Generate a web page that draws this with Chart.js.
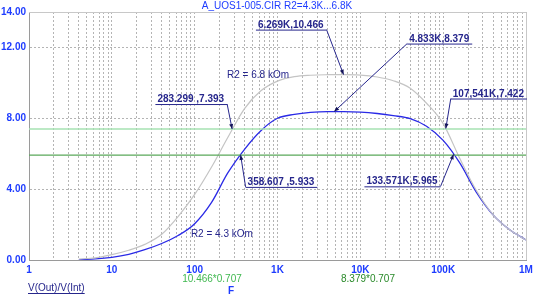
<!DOCTYPE html>
<html>
<head>
<meta charset="utf-8">
<script src="https://cdn.jsdelivr.net/npm/chart.js@4.4.1/dist/chart.umd.min.js"></script>
<style>
  html, body { margin: 0; padding: 0; background: #fff; }
  #wrap { width: 552px; height: 301px; position: relative; }
</style>
</head>
<body>
<div id="wrap"><canvas id="c"></canvas></div>
<script>
/* ---- data (5 samples per decade) ---- */
const freqs = [4, 6.3, 10, 16, 25, 40, 63, 100, 160, 250, 400, 630,
  1000, 1600, 2500, 4000, 6300, 10000, 16000, 25000, 40000, 63000,
  100000, 160000, 250000, 400000, 630000, 1000000];
const gainR68 = [0.05, 0.12, 0.3, 0.55, 0.88, 1.45, 2.45, 3.7, 5.25, 6.9, 8.55, 9.55,
  10.1, 10.35, 10.43, 10.46, 10.466, 10.44, 10.33, 10.12, 9.7, 8.85,
  7.7, 5.7, 3.95, 2.55, 1.72, 1.13];
const gainR43 = [0.02, 0.06, 0.15, 0.32, 0.58, 0.93, 1.38, 2.05, 3.25, 4.9, 6.25, 7.3,
  8.0, 8.22, 8.33, 8.375, 8.375, 8.35, 8.27, 8.15, 7.98, 7.55,
  6.75, 5.45, 3.85, 2.55, 1.72, 1.13];
const refLevels = [7.400, 5.924];          // 10.466*0.707, 8.379*0.707
const refTexts = ['10.466*0.707', '8.379*0.707'];
const yTicks = [0, 4, 8, 12, 14];
const xDecades = [1, 10, 100, 1000, 10000, 100000, 1000000];
const xLabels = ['1', '10', '100', '1K', '10K', '100K', '1M'];
const markerF = [283.299, 358.607, 133571, 107541, 4833, 6269];
const markerV = [7.393, 5.933, 5.965, 7.422, 8.379, 10.466];
const markerText = ['283.299 ,7.393', '358.607 ,5.933', '133.571K,5.965', '107,541K,7.422', '4.833K,8.379', '6.269K,10.466'];

/* ---- styling / layout ---- */
const FONT = "Arial, 'Liberation Sans', sans-serif";
const BLUE = '#1e3cff', NAVY = '#26268c', GRID = '#b4b4b4';
// leader attach offsets (px from marker point) and which way the label runs
const markerLayout = [
  { dx: -5, dy: -25, side: 'left' },
  { dx: 5, dy: 32, side: 'right' },
  { dx: -13, dy: 32, side: 'left' },
  { dx: 5, dy: -30, side: 'right' },
  { dx: 73, dy: -68, side: 'right' },
  { dx: -17, dy: -45, side: 'left' }
];

const pts = (ys) => freqs.map((f, i) => ({ x: f, y: ys[i] }));
const flat = (v) => [{ x: 1, y: v }, { x: 1000000, y: v }];

const extras = {
  id: 'extras',
  afterDatasetsDraw(chart) {
    const { ctx, chartArea: a, scales: { x, y } } = chart;
    ctx.save();
    // frame top/right
    ctx.strokeStyle = '#c8c8c8'; ctx.lineWidth = 1;
    ctx.beginPath();
    ctx.moveTo(a.left, a.top + 0.5); ctx.lineTo(a.right + 0.5, a.top + 0.5); ctx.lineTo(a.right + 0.5, a.bottom);
    ctx.stroke();

    // title
    ctx.font = '10px ' + FONT; ctx.fillStyle = BLUE; ctx.textAlign = 'center'; ctx.textBaseline = 'middle';
    ctx.fillText('A_UOS1-005.CIR R2=4.3K...6.8K', 277, 6);

    // curve names
    ctx.fillStyle = NAVY; ctx.textAlign = 'left'; ctx.textBaseline = 'alphabetic';
    ctx.fillText('R2 = 6.8 kOm', x.getPixelForValue(246), y.getPixelForValue(10.3));
    ctx.fillText('R2 = 4.3 kOm', x.getPixelForValue(90), y.getPixelForValue(1.3));

    // marker annotations
    ctx.font = 'bold 10px ' + FONT;
    markerF.forEach((f, i) => {
      const px = x.getPixelForValue(f), py = y.getPixelForValue(markerV[i]);
      const L = markerLayout[i];
      const ax = px + L.dx, ay = py + L.dy;
      const w = ctx.measureText(markerText[i]).width + 5;
      const x0 = L.side === 'left' ? ax - w : ax;
      ctx.strokeStyle = NAVY; ctx.lineWidth = 1;
      ctx.beginPath();
      ctx.moveTo(x0, ay + 0.5); ctx.lineTo(x0 + w, ay + 0.5);
      ctx.moveTo(ax, ay); ctx.lineTo(px, py);
      ctx.stroke();
      // arrow head
      const ang = Math.atan2(py - ay, px - ax);
      ctx.fillStyle = '#14145a';
      ctx.beginPath();
      ctx.moveTo(px, py);
      ctx.lineTo(px - 5 * Math.cos(ang) + 2 * Math.sin(ang), py - 5 * Math.sin(ang) - 2 * Math.cos(ang));
      ctx.lineTo(px - 5 * Math.cos(ang) - 2 * Math.sin(ang), py - 5 * Math.sin(ang) + 2 * Math.cos(ang));
      ctx.closePath(); ctx.fill();
      ctx.fillStyle = NAVY;
      ctx.fillText(markerText[i], x0 + 2, ay - 2);
    });

    // bottom captions
    ctx.font = '10px ' + FONT;
    ctx.fillStyle = NAVY; ctx.textAlign = 'left'; ctx.textBaseline = 'middle';
    ctx.fillText('V(Out)/V(Int)', 28, 288);
    const vw = ctx.measureText('V(Out)/V(Int)').width;
    ctx.strokeStyle = NAVY; ctx.beginPath(); ctx.moveTo(28, 293.5); ctx.lineTo(28 + vw, 293.5); ctx.stroke();
    ctx.textAlign = 'center';
    ctx.fillStyle = '#40b850'; ctx.fillText(refTexts[0], 212, 279);
    ctx.fillStyle = '#2a8a2a'; ctx.fillText(refTexts[1], 368, 279);
    ctx.font = 'bold 10px ' + FONT;
    ctx.fillStyle = BLUE; ctx.fillText('F', 231, 291);
    ctx.restore();
  }
};

new Chart(document.getElementById('c').getContext('2d'), {
  type: 'line',
  data: {
    datasets: [
      { data: flat(refLevels[0]), borderColor: '#a6e2b2', borderWidth: 1.5 },
      { data: flat(refLevels[1]), borderColor: '#5aa85a', borderWidth: 1.2 },
      { data: pts(gainR68), borderColor: '#c4c4c4', borderWidth: 1.2, cubicInterpolationMode: 'monotone' },
      { data: pts(gainR43), borderColor: '#2a2ae6', borderWidth: 1.3, cubicInterpolationMode: 'monotone' }
    ]
  },
  options: {
    responsive: true,
    maintainAspectRatio: false,
    animation: false,
    events: [],
    elements: { point: { radius: 0 }, line: { fill: false } },
    layout: { padding: { top: 12, right: 26, left: 0, bottom: 0 } },
    plugins: { legend: { display: false }, tooltip: { enabled: false }, title: { display: false } },
    scales: {
      x: {
        type: 'logarithmic', min: 1, max: 1000000,
        afterBuildTicks: (s) => {
          const t = [];
          xDecades.forEach((d) => {
            if (d === 1000000) { t.push({ value: d }); return; }
            for (let k = 1; k <= 9; k++) t.push({ value: d * k });
          });
          s.ticks = t;
        },
        afterFit: (s) => { s.height = 41; },
        grid: { color: GRID, drawTicks: false, lineWidth: 1 },
        border: { display: true, color: '#9a9a9a', dash: [2, 2] },
        ticks: {
          autoSkip: false, maxRotation: 0, padding: 4, color: BLUE,
          font: { family: FONT, size: 10, weight: 'bold' },
          callback: (v) => { const i = xDecades.indexOf(v); return i >= 0 ? xLabels[i] : ''; }
        }
      },
      y: {
        min: 0, max: 14,
        afterBuildTicks: (s) => { s.ticks = yTicks.map((v) => ({ value: v })); },
        afterFit: (s) => { s.width = 29; },
        grid: {
          drawTicks: false,
          color: (c) => (c.tick && (c.tick.value === 0 || c.tick.value === 14)) ? 'rgba(0,0,0,0)' : GRID
        },
        border: { display: true, color: '#9a9a9a', dash: [2, 2] },
        ticks: {
          padding: 3, color: BLUE,
          font: { family: FONT, size: 10, weight: 'bold' },
          callback: (v) => Number(v).toFixed(2)
        }
      }
    }
  },
  plugins: [extras]
});
</script>
</body>
</html>
